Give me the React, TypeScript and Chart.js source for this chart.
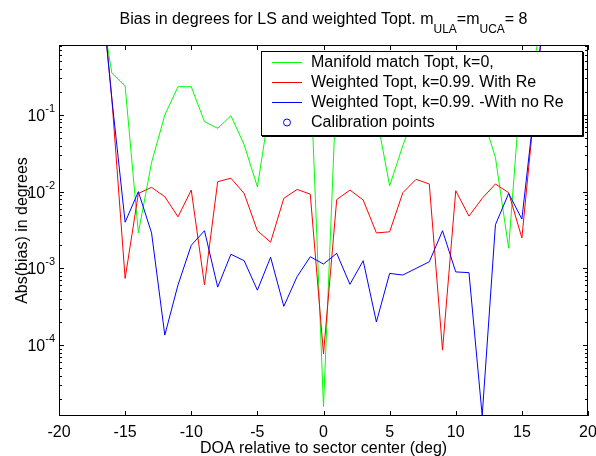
import React, { useEffect, useRef } from "react";
import { Chart, registerables } from "chart.js";

Chart.register(...registerables);

// ---- data ----
const DOA = [-17, -16, -15, -14, -13, -12, -11, -10, -9, -8, -7, -6, -5, -4, -3, -2, -1, 0, 1, 2, 3, 4, 5, 6, 7, 8, 9, 10, 11, 12, 13, 14, 15, 16, 17];

const manifoldMatch = [4, 0.35, 0.239, 0.0029, 0.024, 0.1, 0.234, 0.234, 0.082, 0.067, 0.098, 0.041, 0.0116, 0.15, 0.2, 0.3, 0.4, 1.58e-5, 0.3, 0.25, 0.2, 0.1, 0.0119, 0.04, 0.12, 0.2, 0.3, 0.3, 0.2, 0.1, 0.028, 0.00183, 0.36, 0.6, 4];

const weightedWithRe = [10, 0.16, 0.00074, 0.0095, 0.0114, 0.0086, 0.0047, 0.0105, 0.00061, 0.0135, 0.015, 0.0095, 0.0031, 0.0022, 0.0082, 0.0107, 0.0093, 7.7e-5, 0.0079, 0.0105, 0.0078, 0.0029, 0.003, 0.0097, 0.0145, 0.0126, 8.6e-5, 0.0103, 0.0048, 0.0082, 0.0126, 0.0097, 0.0025, 0.15, 10];

const weightedNoRe = [10, 0.16, 0.004, 0.01, 0.0029, 1.35e-4, 0.00061, 0.002, 0.0031, 0.00057, 0.00153, 0.00126, 0.00052, 0.0014, 0.00032, 0.00078, 0.00142, 0.00114, 0.00157, 0.00062, 0.00126, 0.0002, 0.00086, 0.00082, 0.001, 0.00122, 0.0031, 0.0009, 0.00088, 1.2e-5, 0.0037, 0.0095, 0.0044, 0.15, 10];

const calibX: number[] = [];
const calibY: number[] = [];

const seriesLabels = [
  "Manifold match Topt, k=0,",
  "Weighted Topt, k=0.99. With Re",
  "Weighted Topt, k=0.99. -With no Re",
  "Calibration points",
];

const xTicks = [-20, -15, -10, -5, 0, 5, 10, 15, 20];
const yDecadeExps = [-4, -3, -2, -1];
const X_MIN = -20;
const X_MAX = 20;
const Y_MIN = 1.19e-5;
const Y_MAX = 0.818;

const X_LABEL = "DOA relative to sector center (deg)";
const Y_LABEL = "Abs(bias) in degrees";
const TITLE_PARTS: { t: string; sub: boolean }[] = [
  { t: "Bias in degrees for LS and weighted Topt. m", sub: false },
  { t: "ULA", sub: true },
  { t: "=m", sub: false },
  { t: "UCA", sub: true },
  { t: "= 8", sub: false },
];

const FONT = "'Liberation Sans', Arial, Helvetica, sans-serif";

const decorPlugin = {
  id: "matlabDecor",
  afterDraw(chart: any) {
    const ctx: CanvasRenderingContext2D = chart.ctx;
    const { left, right, top, bottom } = chart.chartArea;
    const xs = chart.scales.x;
    const ys = chart.scales.y;
    ctx.save();
    ctx.strokeStyle = "#000";
    ctx.fillStyle = "#000";
    ctx.lineWidth = 1;
    // box
    ctx.strokeRect(Math.round(left) + 0.5, Math.round(top) + 0.5, Math.round(right - left) - 1, Math.round(bottom - top) - 1);

    // x ticks
    ctx.beginPath();
    for (const v of xTicks) {
      const px = Math.round(xs.getPixelForValue(v)) + 0.5;
      ctx.moveTo(px, bottom);
      ctx.lineTo(px, bottom - 5);
      ctx.moveTo(px, top);
      ctx.lineTo(px, top + 5);
    }
    // y ticks (major + minor)
    for (let e = -6; e <= 1; e++) {
      for (let k = 1; k <= 9; k++) {
        const v = k * Math.pow(10, e);
        if (v < Y_MIN || v > Y_MAX) continue;
        const py = Math.round(ys.getPixelForValue(v)) + 0.5;
        const len = k === 1 ? 5 : 3;
        ctx.moveTo(left, py);
        ctx.lineTo(left + len, py);
        ctx.moveTo(right, py);
        ctx.lineTo(right - len, py);
      }
    }
    ctx.stroke();

    // x tick labels
    ctx.font = `16px ${FONT}`;
    ctx.textAlign = "center";
    ctx.textBaseline = "alphabetic";
    for (const v of xTicks) {
      ctx.fillText(String(v), xs.getPixelForValue(v), 437);
    }
    // y tick labels 10^e
    for (const e of yDecadeExps) {
      const py = ys.getPixelForValue(Math.pow(10, e));
      ctx.font = `11px ${FONT}`;
      const expStr = String(e);
      const ew = ctx.measureText(expStr).width;
      ctx.textAlign = "left";
      const expX = 55 - ew;
      ctx.fillText(expStr, expX, py - 3);
      ctx.font = `16px ${FONT}`;
      ctx.textAlign = "right";
      ctx.fillText("10", expX, py + 6);
    }

    // axis labels
    ctx.font = `16px ${FONT}`;
    ctx.textAlign = "center";
    ctx.fillText(X_LABEL, (left + right) / 2, 453);
    ctx.save();
    ctx.translate(27, (top + bottom) / 2);
    ctx.rotate(-Math.PI / 2);
    ctx.fillText(Y_LABEL, 0, 0);
    ctx.restore();

    // title
    let total = 0;
    const widths: number[] = [];
    for (const p of TITLE_PARTS) {
      ctx.font = `${p.sub ? 12 : 16}px ${FONT}`;
      const w = ctx.measureText(p.t).width;
      widths.push(w);
      total += w;
    }
    let tx = (left + right) / 2 - total / 2;
    ctx.textAlign = "left";
    TITLE_PARTS.forEach((p, i) => {
      ctx.font = `${p.sub ? 12 : 16}px ${FONT}`;
      ctx.fillText(p.t, tx, p.sub ? 33 : 24);
      tx += widths[i];
    });

    // legend
    const lx = 261, ly = 51, lw = 321, lh = 84;
    ctx.fillStyle = "#fff";
    ctx.fillRect(lx, ly, lw, lh);
    ctx.strokeStyle = "#000";
    ctx.lineWidth = 1;
    ctx.strokeRect(lx + 0.5, ly + 0.5, lw, lh);
    ctx.beginPath();
    ctx.moveTo(lx + 1, ly + lh + 1.5);
    ctx.lineTo(lx + lw + 1.5, ly + lh + 1.5);
    ctx.lineTo(lx + lw + 1.5, ly + 1);
    ctx.stroke();
    const rowY = [62, 82, 102, 122];
    chart.data.datasets.forEach((ds: any, i: number) => {
      const y = rowY[i];
      ctx.strokeStyle = ds.borderColor;
      ctx.lineWidth = 1;
      if (ds.showLine === false) {
        ctx.beginPath();
        ctx.arc(287, y + 0.5, 3.5, 0, Math.PI * 2);
        ctx.stroke();
      } else {
        ctx.beginPath();
        ctx.moveTo(272, y + 0.5);
        ctx.lineTo(302, y + 0.5);
        ctx.stroke();
      }
      ctx.fillStyle = "#000";
      ctx.font = `16px ${FONT}`;
      ctx.textAlign = "left";
      ctx.textBaseline = "middle";
      ctx.fillText(ds.label, 311, y + 1);
    });
    ctx.restore();
  },
};

export default function App() {
  const ref = useRef<HTMLCanvasElement | null>(null);
  useEffect(() => {
    if (!ref.current) return;
    const toPts = (arr: number[]) => DOA.map((x, i) => ({ x, y: arr[i] }));
    const chart = new Chart(ref.current, {
      type: "line",
      data: {
        datasets: [
          { label: seriesLabels[0], data: toPts(manifoldMatch), borderColor: "#00ff00", borderWidth: 1, pointRadius: 0, order: 2 },
          { label: seriesLabels[1], data: toPts(weightedWithRe), borderColor: "#ff0000", borderWidth: 1, pointRadius: 0, order: 1 },
          { label: seriesLabels[2], data: toPts(weightedNoRe), borderColor: "#0000ff", borderWidth: 1, pointRadius: 0, order: 0 },
          {
            label: seriesLabels[3],
            data: calibX.map((x, i) => ({ x, y: calibY[i] })),
            borderColor: "#0000ff",
            backgroundColor: "rgba(0,0,0,0)",
            showLine: false,
            pointRadius: 3.5,
            pointStyle: "circle",
            order: -1,
          },
        ],
      },
      options: {
        responsive: false,
        animation: false,
        events: [],
        layout: { padding: { left: 0, top: 45, right: 8, bottom: 0 } },
        plugins: { legend: { display: false }, title: { display: false }, tooltip: { enabled: false } },
        elements: { line: { tension: 0 } },
        scales: {
          x: {
            type: "linear",
            min: X_MIN,
            max: X_MAX,
            grid: { display: false },
            border: { display: false },
            ticks: { display: false },
            afterFit: (s: any) => { s.height = 40; },
          },
          y: {
            type: "logarithmic",
            min: Y_MIN,
            max: Y_MAX,
            grid: { display: false },
            border: { display: false },
            ticks: { display: false },
            afterFit: (s: any) => { s.width = 59; },
          },
        },
      } as any,
      plugins: [decorPlugin],
    });
    return () => chart.destroy();
  }, []);
  return (
    <div style={{ position: "absolute", left: 0, top: 0, width: 596, height: 456, background: "#fff" }}>
      <canvas ref={ref} width={596} height={456} style={{ display: "block" }} />
    </div>
  );
}
